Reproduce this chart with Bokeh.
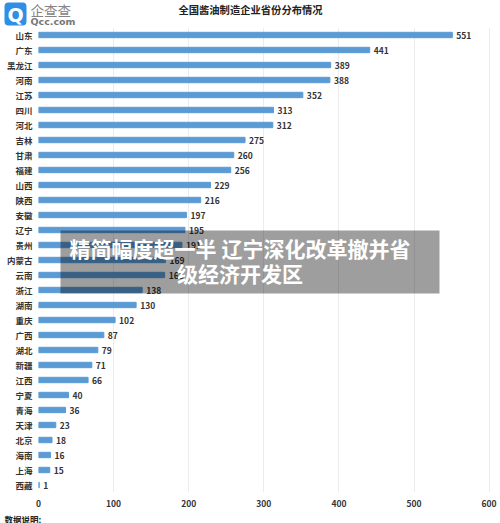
from bokeh.plotting import figure
from bokeh.models import ColumnDataSource, BoxAnnotation, Label, FactorRange, Range1d, FixedTicker
from bokeh.core.properties import value
from bokeh.embed import file_html
from bokeh.resources import INLINE

provinces = ["山东","广东","黑龙江","河南","江苏","四川","河北","吉林","甘肃","福建","山西","陕西","安徽","辽宁","贵州","内蒙古","云南","浙江","湖南","重庆","广西","湖北","新疆","江西","宁夏","青海","天津","北京","海南","上海","西藏"]
counts = [551,441,389,388,352,313,312,275,260,256,229,216,197,195,191,169,168,138,130,102,87,79,71,66,40,36,23,18,16,15,1]
x_ticks = [0,100,200,300,400,500,600]
chart_title = "全国酱油制造企业省份分布情况"
overlay_lines = ["精简幅度超一半 辽宁深化改革撤并省", "级经济开发区"]

FONT = "Noto Sans CJK SC"
HEAD_H, BODY_BOTTOM, TOTAL_H = 27, 510, 523
FRAME_L, FRAME_B = 38, 492
src = ColumnDataSource(dict(p=provinces, c=counts, t=[str(v) for v in counts]))


def place(top):
    return [":host{position:absolute;left:0;top:%dpx}" % top]


def strip(height, top):
    f = figure(width=500, height=height, output_backend="svg", toolbar_location=None,
               x_range=Range1d(0, 500), y_range=Range1d(0, height),
               min_border=0, outline_line_color=None, border_fill_color="white", background_fill_color="white")
    f.axis.visible = False
    f.grid.visible = False
    f.stylesheets = place(top)
    return f


head = strip(HEAD_H, 0)
foot = strip(TOTAL_H - BODY_BOTTOM, BODY_BOTTOM)

p = figure(width=500, height=BODY_BOTTOM - HEAD_H, output_backend="svg", toolbar_location=None,
           y_range=FactorRange(factors=provinces[::-1], range_padding=0, factor_padding=0, group_padding=0),
           x_range=Range1d(0, 608.5),
           min_border_left=FRAME_L, min_border_right=5, min_border_top=0, min_border_bottom=BODY_BOTTOM - FRAME_B,
           outline_line_color=None, background_fill_color="white", border_fill_color="white")
p.stylesheets = place(HEAD_H)

p.ygrid.visible = False
p.xgrid.grid_line_color = "#ececec"
p.xgrid.grid_line_width = 1
p.xgrid.ticker = FixedTicker(ticks=x_ticks)
p.xaxis.ticker = FixedTicker(ticks=x_ticks)
for ax in (p.xaxis[0], p.yaxis[0]):
    ax.axis_line_color = None
    ax.major_tick_line_color = None
    ax.minor_tick_line_color = None
    ax.major_tick_out = 0
    ax.major_tick_in = 0
    ax.minor_tick_out = 0
    ax.minor_tick_in = 0
    ax.major_label_text_color = "#333333"
    ax.major_label_text_font = FONT
    ax.major_label_text_font_size = "8.5px"
    ax.major_label_text_font_style = "bold"
p.xaxis[0].major_label_standoff = 7
p.yaxis[0].major_label_standoff = 6

p.hbar(y="p", right="c", left=0, height=0.36, source=src, color="#5b9bd5")
p.text(x="c", y="p", text="t", source=src, x_offset=4, text_baseline="middle", text_align="left",
       text_color="#333333", text_font=value(FONT), text_font_size="8.5px", text_font_style="bold")


def label(fig, x, y, text, size, color="#333333", style="normal", align="left", font=FONT):
    fig.add_layout(Label(x=x, y=y, x_units="screen", y_units="screen", text=text, text_font=font,
                         text_font_size=size, text_color=color, text_font_style=style, text_align=align,
                         text_baseline="middle", level="overlay"))


def box(fig, l, r, t, b, color, alpha, radius=0):
    fig.add_layout(BoxAnnotation(left=l, right=r, top=t, bottom=b,
                                 left_units="screen", right_units="screen", top_units="screen", bottom_units="screen",
                                 fill_color=color, fill_alpha=alpha, line_color=None, level="overlay", border_radius=radius))


def hy(y):
    return HEAD_H - y


label(head, 250, hy(9), chart_title, "10.3px", "#222222", "bold", "center")
box(head, 4, 26, hy(2), hy(25), "#2f8fe6", 1, radius=4)
label(head, 15, hy(14), "Q", "19px", "white", "bold", "center", "DejaVu Sans")
label(head, 30, hy(9), "企查查", "13.5px", "#858585", "normal")
label(head, 30, hy(21), "Qcc.com", "9.5px", "#777777", "bold", font="DejaVu Sans")

label(foot, 4, TOTAL_H - 518, "数据说明:", "8.5px", "#222222", "bold")

# overlay banner
box(p, 60 - FRAME_L, 439 - FRAME_L, FRAME_B - 230, FRAME_B - 293, "black", 0.38)
for yy, line in zip((247, 272), overlay_lines):
    label(p, 239.5 - FRAME_L, FRAME_B - yy, line, "21px", "white", "bold", "center")

open("out.html", "w").write(file_html((head, p, foot), INLINE))
